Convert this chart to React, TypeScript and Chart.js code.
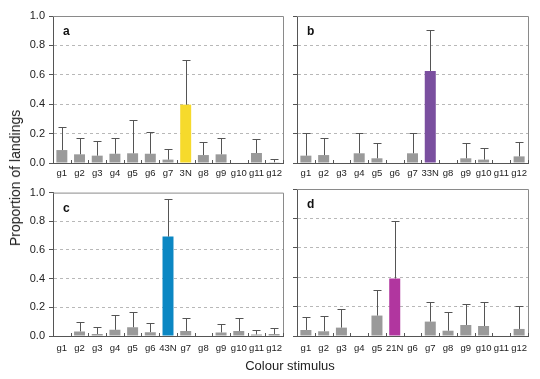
import React, { useEffect, useRef } from "react";
import { Chart, registerables } from "chart.js";

Chart.register(...registerables);

const catsA = ["g1", "g2", "g3", "g4", "g5", "g6", "g7", "3N", "g8", "g9", "g10", "g11", "g12"];
const valsA = [0.088, 0.059, 0.05, 0.063, 0.066, 0.063, 0.023, 0.397, 0.054, 0.059, 0, 0.068, 0.005];
const errA = [0.245, 0.17, 0.15, 0.17, 0.295, 0.213, 0.097, 0.703, 0.143, 0.172, null, 0.166, 0.027];

const catsB = ["g1", "g2", "g3", "g4", "g5", "g6", "g7", "33N", "g8", "g9", "g10", "g11", "g12"];
const valsB = [0.05, 0.054, 0, 0.066, 0.032, 0, 0.066, 0.626, 0, 0.032, 0.023, 0, 0.045];
const errB = [0.206, 0.172, null, 0.206, 0.136, null, 0.206, 0.905, null, 0.138, 0.104, null, 0.14];

const catsC = ["g1", "g2", "g3", "g4", "g5", "g6", "43N", "g7", "g8", "g9", "g10", "g11", "g12"];
const valsC = [0, 0.032, 0.014, 0.043, 0.061, 0.027, 0.693, 0.034, 0, 0.025, 0.034, 0.011, 0.014];
const errC = [null, 0.095, 0.061, 0.145, 0.168, 0.089, 0.955, 0.123, null, 0.082, 0.123, 0.041, 0.059];

const catsD = ["g1", "g2", "g3", "g4", "g5", "21N", "g6", "g7", "g8", "g9", "g10", "g11", "g12"];
const valsD = [0.041, 0.032, 0.057, 0, 0.139, 0.391, 0, 0.098, 0.036, 0.075, 0.068, 0, 0.048];
const errD = [0.13, 0.136, 0.184, null, 0.311, 0.782, null, 0.232, 0.166, 0.216, 0.234, null, 0.207];

const yTicks = [0, 0.2, 0.4, 0.6, 0.8, 1.0];

const GRAY = "#9a9a9a";
const FONT = "'Liberation Sans', Arial, sans-serif";

type PanelProps = {
  letter: string;
  cats: string[];
  vals: number[];
  errs: (number | null)[];
  highlight: string;
  showYLabels: boolean;
  left: number;
  top: number;
  width: number;
  height: number;
  yWidth: number;
  xHeight: number;
  padTop: number;
  padRight: number;
  labelPad: number;
};

const framePlugin = {
  id: "frame",
  beforeDatasetsDraw(chart: any) {
    const { ctx, chartArea } = chart;
    const { left, right, top, bottom } = chartArea;
    ctx.save();
    ctx.strokeStyle = "#8a8a8a";
    ctx.lineWidth = 1;
    ctx.beginPath();
    ctx.moveTo(left, top + 0.5);
    ctx.lineTo(right + 0.5, top + 0.5);
    ctx.lineTo(right + 0.5, bottom);
    ctx.stroke();
    const xs = chart.scales.x;
    const n = xs.ticks.length;
    ctx.strokeStyle = "#555";
    ctx.beginPath();
    for (let i = 0; i <= n; i++) {
      const x = Math.round(xs.left + (i * (xs.right - xs.left)) / n) + 0.5;
      ctx.moveTo(x, bottom - 3);
      ctx.lineTo(x, bottom + 1);
    }
    ctx.stroke();
    ctx.restore();
  },
};

const errorPlugin = {
  id: "errbars",
  afterDatasetsDraw(chart: any, _args: any, opts: any) {
    const errs: (number | null)[] = opts.errs || [];
    const meta = chart.getDatasetMeta(0);
    const ys = chart.scales.y;
    const { ctx } = chart;
    ctx.save();
    ctx.strokeStyle = "#555";
    ctx.lineWidth = 1;
    meta.data.forEach((bar: any, i: number) => {
      const e = errs[i];
      if (e == null) return;
      const x = Math.round(bar.x) + 0.5;
      const yT = Math.round(ys.getPixelForValue(e)) + 0.5;
      ctx.beginPath();
      ctx.moveTo(x, bar.y);
      ctx.lineTo(x, yT);
      ctx.moveTo(x - 4, yT);
      ctx.lineTo(x + 4, yT);
      ctx.stroke();
    });
    ctx.fillStyle = "#111";
    ctx.font = `bold 12px ${FONT}`;
    ctx.textBaseline = "middle";
    ctx.textAlign = "left";
    ctx.fillText(opts.letter, chart.chartArea.left + 10, chart.chartArea.top + 16);
    ctx.restore();
  },
};

function Panel(p: PanelProps) {
  const ref = useRef<HTMLCanvasElement>(null);
  useEffect(() => {
    if (!ref.current) return;
    const colors = p.cats.map((c) => (c.endsWith("N") ? p.highlight : GRAY));
    const chart = new Chart(ref.current, {
      type: "bar",
      data: {
        labels: p.cats,
        datasets: [
          {
            data: p.vals,
            backgroundColor: colors,
            borderWidth: 0,
            categoryPercentage: 1,
            barPercentage: 0.62,
          },
        ],
      },
      options: {
        animation: false,
        responsive: false,
        maintainAspectRatio: false,
        layout: { padding: { top: p.padTop, right: p.padRight, left: 0, bottom: 0 } },
        plugins: {
          legend: { display: false },
          tooltip: { enabled: false },
          errbars: { errs: p.errs, letter: p.letter },
        } as any,
        scales: {
          x: {
            type: "category",
            offset: true,
            grid: { display: true, drawOnChartArea: false, drawTicks: false },
            border: { display: true, color: "#555", width: 1 },
            ticks: {
              padding: p.labelPad,
              color: "#222",
              font: { family: FONT, size: 9.5 },
              maxRotation: 0,
              autoSkip: false,
            },
            afterFit: (s: any) => {
              s.height = p.xHeight;
            },
          },
          y: {
            type: "linear",
            min: 0,
            max: 1,
            afterBuildTicks: (s: any) => {
              s.ticks = yTicks.map((v) => ({ value: v }));
            },
            grid: {
              color: (c: any) =>
                c.tick && (c.tick.value === 0 || c.tick.value === 1) ? "rgba(0,0,0,0)" : "#b8b8b8",
              tickColor: "#555",
              tickLength: 4,
              tickBorderDash: [],
              lineWidth: 1,
            },
            border: { display: true, color: "#555", width: 1, dash: [3, 3] },
            ticks: {
              display: p.showYLabels,
              padding: 4,
              color: "#222",
              font: { family: FONT, size: 11 },
              callback: (v: any) => Number(v).toFixed(1),
            },
            afterFit: (s: any) => {
              s.width = p.yWidth;
            },
          },
        },
      },
      plugins: [framePlugin, errorPlugin],
    });
    return () => chart.destroy();
  }, []);
  return (
    <canvas
      ref={ref}
      width={p.width}
      height={p.height}
      style={{ position: "absolute", left: p.left, top: p.top, width: p.width, height: p.height }}
    />
  );
}

export default function App() {
  return (
    <div
      style={{
        position: "absolute",
        left: 0,
        top: 0,
        width: 540,
        height: 379,
        background: "#fff",
        fontFamily: FONT,
      }}
    >
      <Panel letter="a" cats={catsA} vals={valsA} errs={errA} highlight="#f6da2c" showYLabels
        left={0} top={0} width={290} height={182} yWidth={53} xHeight={19} padTop={16} padRight={7} labelPad={5} />
      <Panel letter="b" cats={catsB} vals={valsB} errs={errB} highlight="#7a4f9f" showYLabels={false}
        left={290} top={0} width={250} height={182} yWidth={7} xHeight={19} padTop={16} padRight={12} labelPad={5} />
      <Panel letter="c" cats={catsC} vals={valsC} errs={errC} highlight="#0b87c3" showYLabels
        left={0} top={182} width={290} height={197} yWidth={53} xHeight={43} padTop={7} padRight={7} labelPad={7} />
      <Panel letter="d" cats={catsD} vals={valsD} errs={errD} highlight="#b1369f" showYLabels={false}
        left={290} top={182} width={250} height={197} yWidth={7} xHeight={43} padTop={7} padRight={12} labelPad={7} />
      <div
        style={{
          position: "absolute",
          left: 15,
          top: 178,
          transform: "translate(-50%, -50%) rotate(-90deg)",
          whiteSpace: "nowrap",
          fontSize: 14,
          color: "#222",
        }}
      >
        Proportion of landings
      </div>
      <div
        style={{
          position: "absolute",
          left: 290,
          top: 365,
          transform: "translate(-50%, -50%)",
          whiteSpace: "nowrap",
          fontSize: 13,
          color: "#222",
        }}
      >
        Colour stimulus
      </div>
    </div>
  );
}
